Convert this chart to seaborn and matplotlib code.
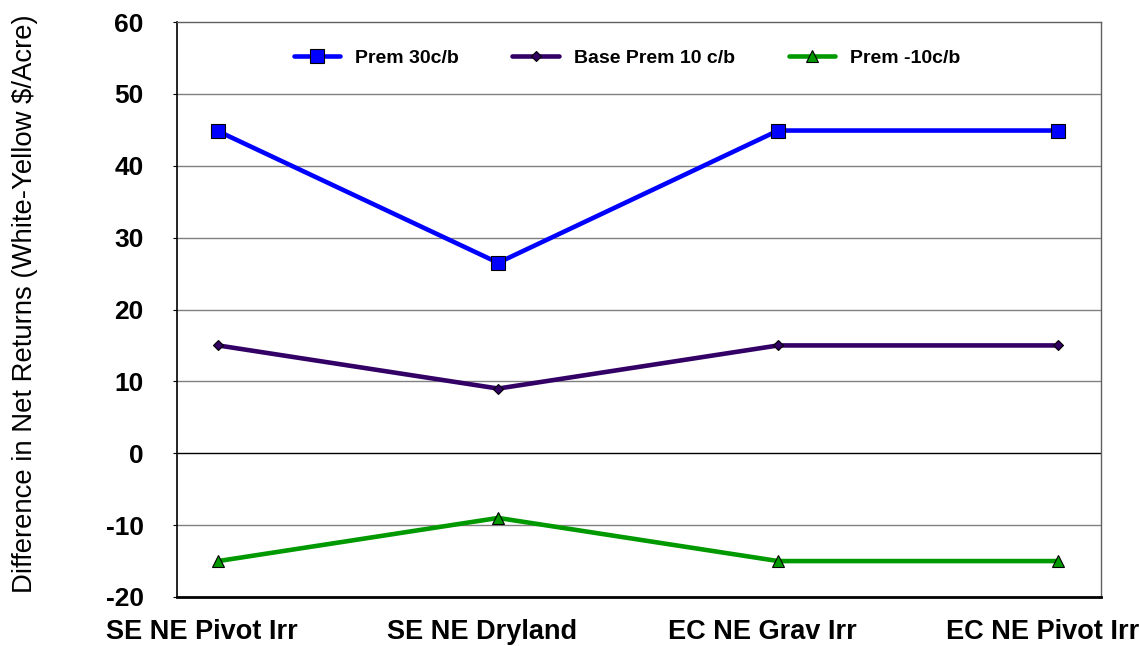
import matplotlib
matplotlib.use("Agg")
import matplotlib.pyplot as plt
import matplotlib.transforms as mtransforms
import seaborn as sns
import pandas as pd

regions = ["SE NE Pivot Irr", "SE NE Dryland", "EC NE Grav Irr", "EC NE Pivot Irr"]
series_names = ["Prem 30c/b", "Base Prem 10 c/b", "Prem -10c/b"]
prem_30 = [44.8, 26.5, 44.9, 44.9]
base_prem_10 = [15.0, 9.0, 15.0, 15.0]
prem_minus_10 = [-15.0, -9.0, -15.0, -15.0]
y_ticks = [-20, -10, 0, 10, 20, 30, 40, 50, 60]

rows = []
for name, vals in zip(series_names, [prem_30, base_prem_10, prem_minus_10]):
    for i, v in enumerate(vals):
        rows.append({"pos": i, "value": v, "series": name})
df = pd.DataFrame(rows)

sns.set_theme(style="white")
plt.rcParams["font.family"] = ["Liberation Sans", "DejaVu Sans"]
plt.rcParams["text.color"] = "black"
plt.rcParams["xtick.color"] = "black"
plt.rcParams["ytick.color"] = "black"

fig = plt.figure(figsize=(11.39, 6.46), dpi=100)
ax = fig.add_axes([177 / 1139, 1 - 597 / 646, (1101 - 177) / 1139, (597 - 22) / 646])

palette = {"Prem 30c/b": "#0000FF", "Base Prem 10 c/b": "#330066", "Prem -10c/b": "#009900"}
markers = {"Prem 30c/b": "s", "Base Prem 10 c/b": "D", "Prem -10c/b": "^"}
sizes_m = {"Prem 30c/b": 10, "Base Prem 10 c/b": 5.5, "Prem -10c/b": 8}

sns.lineplot(data=df, x="pos", y="value", hue="series", style="series",
             palette=palette, markers=markers, dashes=False, linewidth=3.3,
             ax=ax, legend=False, zorder=3)

for line, name in zip(ax.get_lines(), series_names):
    line.set_markersize(sizes_m[name])
    line.set_markeredgecolor("black")
    line.set_markeredgewidth(0.8)
    line.set_label(name)

ax.set_xlim(-0.147, 3.153)
ax.set_ylim(-20, 60)
ax.set_yticks(y_ticks)
ax.set_yticklabels([str(t) for t in y_ticks], fontsize=19, fontweight="bold", color="black")
ax.set_xticks(range(len(regions)))
ax.set_xticklabels(regions, fontsize=19.5, fontweight="bold", color="black")
ax.tick_params(axis="x", length=0, pad=16)
ax.tick_params(axis="y", length=3, width=0.8, pad=21, direction="out", left=True)
offset = mtransforms.ScaledTranslation(-16 / 100, 0, fig.dpi_scale_trans)
for lbl in ax.get_xticklabels():
    lbl.set_transform(lbl.get_transform() + offset)

for t in y_ticks[1:-1]:
    ax.axhline(t, color="black" if t == 0 else "#808080", linewidth=1.0, zorder=1)

ax.set_xlabel("")
ax.set_ylabel("")
fig.text(25 / 1139, 1 - 304 / 646, "Difference in Net Returns (White-Yellow $/Acre)",
         rotation=90, ha="center", va="center", fontsize=19.8, color="black")

for side in ["left", "bottom"]:
    ax.spines[side].set_color("black")
    ax.spines[side].set_linewidth(1.2)
for side in ["top", "right"]:
    ax.spines[side].set_color("#606060")
    ax.spines[side].set_linewidth(1.0)
ax.spines["bottom"].set_linewidth(2.0)

leg = ax.legend(handles=ax.get_lines()[:3], labels=series_names, loc="center",
                bbox_to_anchor=(0.487, 0.937), ncol=3, frameon=False,
                prop={"weight": "bold", "size": 14}, handlelength=2.4,
                columnspacing=2.75, handletextpad=0.77, labelcolor="black")

fig.savefig("out.png", dpi=100, facecolor="white")
